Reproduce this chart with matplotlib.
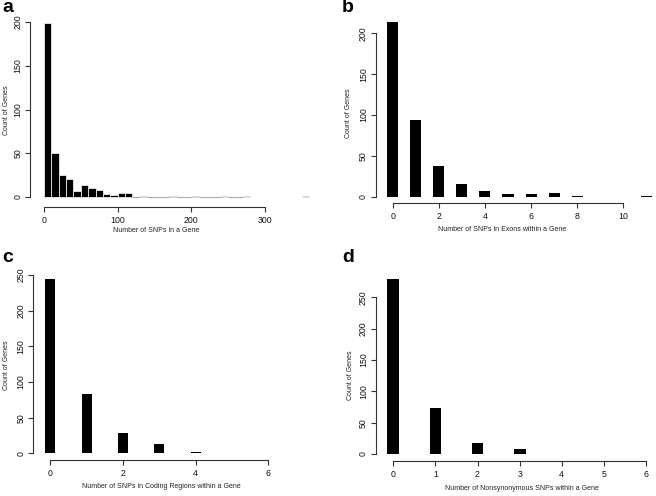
import matplotlib
matplotlib.use("Agg")
import matplotlib.pyplot as plt
import numpy as np

plt.rcParams['font.family'] = ['Liberation Sans', 'DejaVu Sans']

W, H = 656, 496

# ---------------- data ----------------
# a: histogram of SNPs per gene (bin width 10), bin left edges and counts
a_edges = [0, 10, 20, 30, 40, 50, 60, 70, 80, 90, 100, 110, 120, 130, 140, 150, 160, 170,
           180, 190, 200, 210, 220, 230, 240, 250, 260, 270, 350]
a_counts = [199, 50, 25, 21, 7, 14, 10, 8, 4, 2, 5, 5, 0, 1, 0, 0, 0, 1,
            0, 0, 1, 0, 0, 0, 1, 0, 0, 1, 1]
a_xticks = [0, 100, 200, 300]
a_yticks = [0, 50, 100, 150, 200]

# b: SNPs in exons
b_x = [0, 1, 2, 3, 4, 5, 6, 7, 8, 11]
b_counts = [214, 94, 37, 15, 7, 3, 3, 4, 1, 1]
b_xticks = [0, 2, 4, 6, 8, 10]
b_yticks = [0, 50, 100, 150, 200]

# c: SNPs in coding regions
c_x = [0, 1, 2, 3, 4, 5]
c_counts = [245, 83, 29, 13, 2, 1]
c_xticks = [0, 2, 4, 6]
c_yticks = [0, 50, 100, 150, 200, 250]

# d: nonsynonymous SNPs
d_x = [0, 1, 2, 3]
d_counts = [279, 73, 18, 8]
d_xticks = [0, 1, 2, 3, 4, 5, 6]
d_yticks = [0, 50, 100, 150, 200, 250]

labels_x = ["Number of SNPs in a Gene",
            "Number of SNPs in Exons within a Gene",
            "Number of SNPs in Coding Regions within a Gene",
            "Number of Nonsynonymous SNPs within a Gene"]
ylab = "Count of Genes"
letters = ["a", "b", "c", "d"]

fig = plt.figure(figsize=(W / 100, H / 100), dpi=100)
AX_COL = '#333333'


def make_axes(L, R, T, B, px0, sx, py0, sy):
    """L,R,T,B pixel box; px0 pixel of x=0, sx px/unit; py0 pixel of y=0, sy px/unit"""
    ax = fig.add_axes([L / W, (H - B) / H, (R - L) / W, (B - T) / H])
    ax.set_xlim((L - px0) / sx, (R - px0) / sx)
    ax.set_ylim((py0 - B) / sy, (py0 - T) / sy)
    for s in ['top', 'right']:
        ax.spines[s].set_visible(False)
    for s in ['left', 'bottom']:
        ax.spines[s].set_color(AX_COL)
        ax.spines[s].set_linewidth(0.8)
    ax.tick_params(colors=AX_COL, labelcolor='#111111', length=3.5, width=0.8, labelsize=6.3)
    ax.tick_params(axis='x', pad=3)
    ax.tick_params(axis='y', pad=2)
    return ax


def finish(ax, xticks, yticks):
    ax.set_xticks(xticks)
    ax.set_yticks(yticks)
    ax.spines['bottom'].set_bounds(xticks[0], xticks[-1])
    ax.spines['left'].set_bounds(yticks[0], yticks[-1])
    for lab in ax.get_yticklabels():
        lab.set_rotation(90)
        lab.set_va('center')


# ---- a ----
ax = make_axes(30, 322, 15, 207, 44, 0.7367, 197, 0.875)
nz = [(e, c) for e, c in zip(a_edges, a_counts) if c > 0]
ax.bar([e for e, c in nz], [c for e, c in nz], width=10, align='edge',
       color='black', edgecolor='white', linewidth=0.5)
for e, c in zip(a_edges, a_counts):
    if c == 0:
        ax.hlines(0, e, e + 10, color='#aaaaaa', linewidth=0.8)
finish(ax, a_xticks, a_yticks)

# ---- b ----
ax = make_axes(375.7, 656, 15, 203, 392.7, 23.06, 196.7, 0.817)
ax.bar(b_x, b_counts, width=0.48, color='black', linewidth=0)
finish(ax, b_xticks, b_yticks)

# ---- c ----
ax = make_axes(33.3, 322, 265, 460, 50.3, 36.33, 453.3, 0.7133)
ax.bar(c_x, c_counts, width=0.28, color='black', linewidth=0)
finish(ax, c_xticks, c_yticks)

# ---- d ----
ax = make_axes(375.7, 656, 265, 460.7, 393.3, 42.11, 454, 0.6267)
ax.bar(d_x, d_counts, width=0.28, color='black', linewidth=0)
finish(ax, d_xticks, d_yticks)

# ---- texts ----
def ftext(x, y, s, **kw):
    fig.text(x / W, 1 - y / H, s, **kw)

tk = dict(fontsize=5.0, color='#222222', ha='center', va='center')
ftext(156, 231, labels_x[0], **tk)
ftext(501.7, 230, labels_x[1], **tk)
ftext(161.7, 486.7, labels_x[2], **tk)
ftext(521.7, 488.3, labels_x[3], **tk)
ftext(7, 110, ylab, rotation=90, **tk)
ftext(348, 113, ylab, rotation=90, **tk)
ftext(7, 365, ylab, rotation=90, **tk)
ftext(350, 375, ylab, rotation=90, **tk)

lt = dict(fontsize=14, fontweight='bold', color='black', ha='center', va='center')
ftext(8, 8, letters[0], **lt)
ftext(348, 8, letters[1], **lt)
ftext(8, 258, letters[2], **lt)
ftext(348, 258, letters[3], **lt)

fig.savefig("out.png", dpi=100)
